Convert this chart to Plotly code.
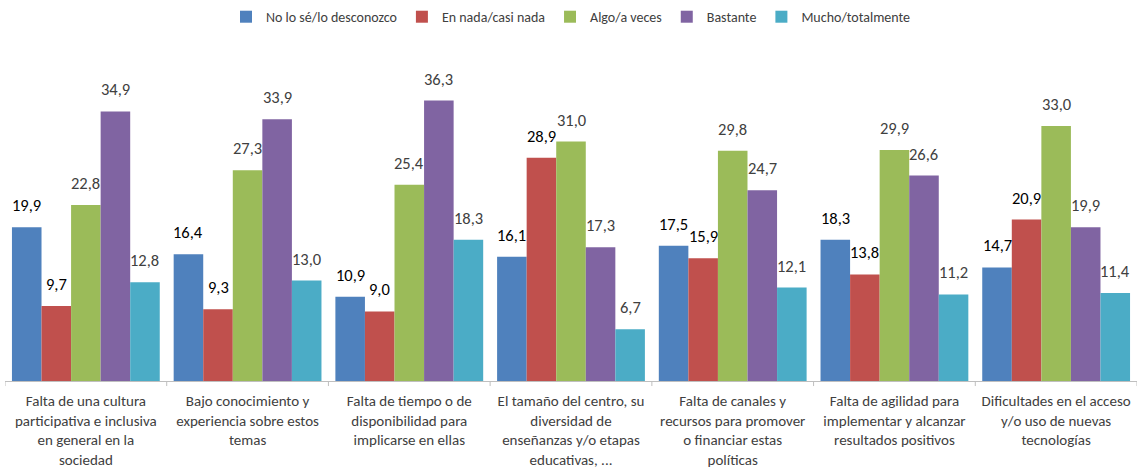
import plotly.graph_objects as go

categories = [
    "Falta de una cultura<br>participativa e inclusiva<br>en general en la<br>sociedad",
    "Bajo conocimiento y<br>experiencia sobre estos<br>temas",
    "Falta de tiempo o de<br>disponibilidad para<br>implicarse en ellas",
    "El tamaño del centro, su<br>diversidad de<br>enseñanzas y/o etapas<br>educativas, ...",
    "Falta de canales y<br>recursos para promover<br>o financiar estas<br>políticas",
    "Falta de agilidad para<br>implementar y alcanzar<br>resultados positivos",
    "Dificultades en el acceso<br>y/o uso de nuevas<br>tecnologías",
]

series_names = [
    "No lo sé/lo desconozco",
    "En nada/casi nada",
    "Algo/a veces",
    "Bastante",
    "Mucho/totalmente",
]

no_lo_se = [19.9, 16.4, 10.9, 16.1, 17.5, 18.3, 14.7]
en_nada = [9.7, 9.3, 9.0, 28.9, 15.9, 13.8, 20.9]
algo = [22.8, 27.3, 25.4, 31.0, 29.8, 29.9, 33.0]
bastante = [34.9, 33.9, 36.3, 17.3, 24.7, 26.6, 19.9]
mucho = [12.8, 13.0, 18.3, 6.7, 12.1, 11.2, 11.4]

values = [no_lo_se, en_nada, algo, bastante, mucho]
colors = ["#4F81BD", "#C0504D", "#9BBB59", "#8064A2", "#4BACC6"]
label_colors = ["#000000", "#000000", "#404040", "#404040", "#404040"]

font_family = "Carlito, Lato, 'Noto Sans', sans-serif"

# bar geometry within each category slot
group_width = 0.914
bar_w = group_width / len(series_names)

fig = go.Figure()
annotations = []
xs = list(range(len(categories)))
for i, (name, vals, color, lcolor) in enumerate(zip(series_names, values, colors, label_colors)):
    off = -group_width / 2 + i * bar_w
    fig.add_trace(go.Bar(
        name=name,
        x=xs,
        y=vals,
        width=bar_w,
        offset=off,
        marker=dict(color=color, line=dict(width=0)),
    ))
    for xj, v in zip(xs, vals):
        annotations.append(dict(
            x=xj + off + bar_w / 2,
            y=v,
            xref="x",
            yref="y",
            text=f"{v:.1f}".replace(".", ","),
            showarrow=False,
            yanchor="bottom",
            yshift=10,
            font=dict(size=16.5, color=lcolor, family=font_family),
        ))

fig.update_layout(
    width=1137,
    height=469,
    barmode="overlay",
    plot_bgcolor="white",
    paper_bgcolor="white",
    margin=dict(l=5, r=0, t=45, b=86),
    font=dict(family=font_family, color="#404040"),
    showlegend=True,
    annotations=annotations,
    legend=dict(
        orientation="h",
        x=0.5, xanchor="center",
        y=1.083, yanchor="middle",
        font=dict(size=14, color="#404040"),
        itemwidth=30,
        traceorder="normal",
    ),
    xaxis=dict(
        tickmode="array",
        tickvals=xs,
        ticktext=categories,
        range=[-0.5, len(categories) - 0.5],
        showline=True,
        linecolor="#BFBFBF",
        linewidth=1,
        ticks="",
        ticklabelstandoff=6,
        showgrid=False,
        zeroline=False,
        tickfont=dict(size=15, color="#404040", family=font_family),
    ),
    yaxis=dict(
        range=[0, 43.5],
        visible=False,
        showgrid=False,
        zeroline=False,
    ),
)

# small tick marks on the category boundaries
for k in range(len(categories) + 1):
    fig.add_shape(
        type="line",
        xref="x", yref="paper",
        x0=k - 0.5, x1=k - 0.5,
        y0=0, y1=-0.015,
        line=dict(color="#BFBFBF", width=1),
    )

fig.write_html("out.html")
